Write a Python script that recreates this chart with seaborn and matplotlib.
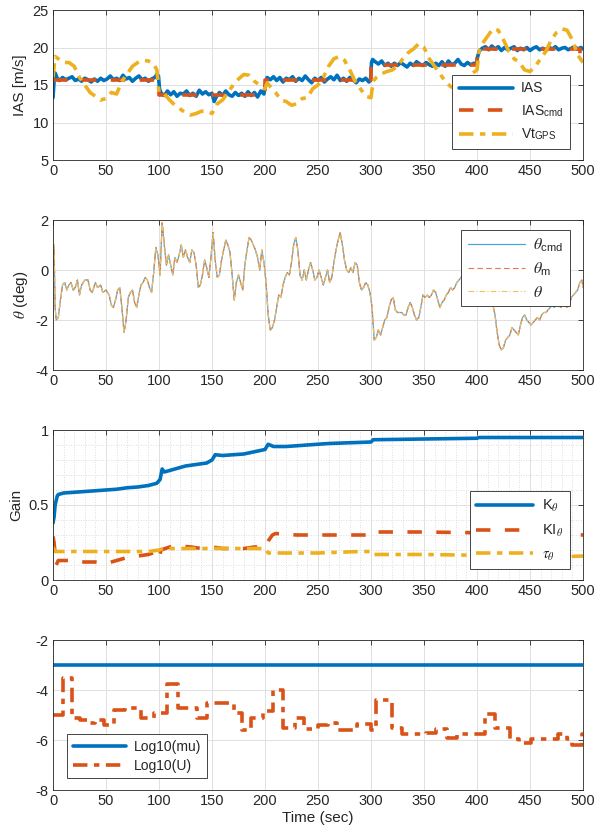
import numpy as np
import pandas as pd
import matplotlib
matplotlib.use("Agg")
import matplotlib.pyplot as plt
from matplotlib.ticker import MultipleLocator
import seaborn as sns

# ---------------- data ----------------
# Panel 1: airspeed
ias_t = [0, 1, 2, 4, 6, 9, 12, 15, 18, 21, 24, 27, 30, 33, 36, 39, 42, 45, 48, 51, 54, 57, 60, 63, 66, 69,
         72, 75, 78, 81, 84, 87, 90, 93, 96, 98, 99.5,
         100.5, 102, 105, 108, 111, 114, 117, 120, 123, 126, 129, 132, 135, 138, 141, 144, 147, 150, 152,
         154, 157, 160, 163, 166, 169, 172, 175, 178, 181, 184, 187, 190, 193, 196, 199,
         200.5, 202, 205, 208, 211, 214, 217, 220, 223, 226, 229, 232, 235, 238, 241, 244, 247, 250, 253,
         256, 259, 262, 265, 268, 271, 274, 277, 280, 283, 286, 289, 292, 295, 298, 299.5,
         300.5, 301.5, 304, 307, 310, 313, 316, 319, 322, 325, 328, 331, 334, 337, 340, 343, 346, 349, 352,
         355, 358, 361, 364, 367, 370, 373, 376, 379, 382, 385, 388, 391, 394, 397, 399.5,
         400.5, 402, 405, 408, 411, 414, 417, 420, 423, 426, 429, 432, 435, 438, 441, 444, 447, 450, 453,
         456, 459, 462, 465, 468, 471, 474, 477, 480, 483, 486, 489, 492, 495, 498, 500]
ias_v = [13.3, 15.5, 16.6, 15.9, 15.6, 16.0, 15.7, 15.9, 16.1, 15.6, 15.8, 15.5, 15.9, 15.7, 15.4, 15.8,
         15.5, 15.9, 15.6, 15.8, 16.2, 15.7, 15.9, 15.6, 16.3, 15.8, 16.0, 15.5, 15.9, 16.2, 15.7, 15.9,
         15.5, 15.8, 16.0, 16.4, 16.2,
         14.5, 13.9, 13.6, 14.2, 13.7, 14.1, 13.5, 13.9, 13.8, 14.2, 13.6, 13.9, 13.5, 14.3, 13.8, 14.1,
         13.7, 13.9, 12.8, 13.4, 14.0, 13.6, 14.2, 13.7, 13.5, 14.0, 13.6, 13.9, 13.5, 14.1, 13.6, 14.0,
         13.4, 14.2, 13.8,
         15.2, 16.0, 15.7, 16.1, 15.6, 16.0, 15.4, 15.9, 15.7, 16.1, 15.5, 15.9, 15.6, 16.2, 15.7, 15.3,
         15.9, 15.6, 16.0, 15.4, 15.8, 16.1, 15.7, 16.3, 15.6, 15.9, 15.5, 16.0, 15.7, 15.3, 15.8, 15.6,
         15.9, 15.4, 15.6,
         18.0, 18.4, 18.1, 17.8, 18.2, 17.6, 17.9, 17.5, 17.9, 17.6, 18.0, 17.7, 17.4, 17.9, 17.6, 18.1,
         17.8, 17.6, 18.0, 17.7, 17.5, 17.9, 17.6, 18.1, 17.5, 18.2, 17.7, 17.9, 18.4, 17.8, 17.6, 18.0,
         17.7, 17.9, 17.8,
         18.7, 19.5, 19.9, 20.1, 19.7, 20.2, 19.8, 20.1, 19.6, 20.0, 19.7, 19.9, 20.1, 19.6, 19.9, 19.7,
         20.0, 19.6, 19.9, 20.1, 19.7, 19.9, 19.6, 20.0, 19.8, 20.1, 19.7, 19.9, 20.0, 19.7, 19.9, 20.1,
         19.8, 20.0, 19.8]

cmd_t = [0, 100, 200, 300, 400, 497, 500]
cmd_v = [15.7, 13.7, 15.7, 17.7, 19.8, 18.2, 18.2]

gps_t = [0, 2, 5, 10, 15, 20, 25, 30, 35, 40, 45, 50, 55, 60, 65, 70, 75, 80, 85, 90, 95, 98,
         100, 105, 110, 115, 120, 125, 130, 135, 140, 145, 150, 155, 160, 165, 170, 175, 180, 185,
         190, 195, 200, 202, 205, 210, 215, 220, 225, 230, 235, 240, 245, 250, 255, 260, 265, 270,
         275, 280, 285, 290, 295, 300, 302, 305, 310, 315, 320, 325, 330, 335, 340, 345, 350, 355,
         360, 365, 370, 375, 380, 385, 390, 395, 400, 402, 405, 410, 415, 420, 425, 430, 435, 440,
         445, 450, 455, 460, 465, 470, 475, 480, 485, 490, 495, 500]
gps_v = [16.0, 18.8, 18.5, 18.0, 18.0, 17.5, 16.0, 15.0, 14.0, 13.5, 13.0, 13.2, 14.0, 13.8, 15.5,
         16.5, 17.5, 18.0, 18.3, 18.2, 17.8, 17.0,
         14.0, 13.8, 13.0, 12.3, 11.8, 11.3, 11.0, 11.2, 11.5, 11.5, 11.2, 12.5, 13.0, 14.0, 15.0,
         15.8, 16.4, 16.3, 15.5, 15.0, 14.5, 15.3, 14.8, 14.0, 13.0, 12.8, 12.3, 12.5, 13.2, 13.3,
         14.5, 15.0, 16.0, 17.5, 18.5, 18.8, 18.3, 17.0, 15.5, 14.5, 13.5, 13.3, 15.5, 16.0, 16.5,
         16.8, 17.0, 17.5, 18.5, 19.3, 19.8, 20.5, 20.0, 18.5, 17.5, 16.5, 15.5, 14.8, 14.5, 15.0,
         15.5, 16.5, 17.0, 19.5, 20.5, 21.5, 22.5, 22.3, 21.0, 19.5, 18.5, 18.0, 17.0, 16.8, 17.5,
         18.5, 19.5, 21.0, 22.0, 22.5, 22.3, 21.0, 19.0, 18.0]

# Panel 2: pitch attitude (command, model and measured overlap)
theta_t = [0, 1, 2, 3, 5, 7, 9, 11, 13, 15, 17, 19, 21, 23, 25, 27, 30, 33, 35, 37, 40, 42, 45, 47,
           50, 53, 55, 57, 59, 61, 63, 65, 67, 69, 71, 73, 75, 77, 79, 81, 83, 85, 87, 89, 91, 93, 95,
           97, 99, 101, 103, 105, 107, 109, 111, 113, 115, 117, 119, 121, 123, 125, 127, 129, 131,
           133, 135, 137, 139, 141, 143, 145, 147, 149, 151, 153, 155, 157, 159, 161, 163, 165, 167,
           169, 171, 173, 175, 177, 179, 181, 183, 185, 187, 189, 191, 193, 195, 197, 199, 201, 203,
           205, 207, 209, 211, 213, 215, 217, 219, 221, 223, 225, 227, 229, 231, 233, 235, 237, 239,
           241, 243, 245, 247, 249, 251, 253, 255, 257, 259, 261, 263, 265, 267, 269, 271, 273, 275,
           277, 279, 281, 283, 285, 287, 289, 291, 293, 295, 297, 299, 301, 303, 305, 307, 309, 311,
           313, 315, 317, 319, 321, 323, 325, 327, 329, 331, 333, 335, 337, 339, 341, 343, 345, 347,
           349, 351, 353, 355, 357, 359, 361, 363, 365, 367, 369, 371, 373, 375, 377, 379, 381, 383,
           385, 387, 389, 391, 393, 395, 400, 405, 410, 414, 417, 419, 421, 423, 425, 427, 429, 431,
           433, 435, 437, 439, 441, 443, 445, 447, 449, 451, 453, 455, 457, 459, 461, 463, 465, 467,
           469, 471, 473, 475, 477, 479, 481, 483, 485, 487, 489, 491, 493, 495, 497, 499, 500]
theta_v = [0.5, 1.0, -1.5, -2.0, -1.9, -1.2, -0.6, -0.5, -0.8, -0.6, -0.5, -0.8, -0.7, -0.4, -1.0,
           -0.6, -0.4, -0.4, -0.8, -0.9, -0.5, -0.7, -0.6, -0.9, -0.8, -1.0, -1.4, -1.5, -1.2, -0.8,
           -0.7, -1.5, -2.5, -2.0, -1.1, -0.9, -0.8, -1.3, -1.5, -1.0, -0.6, -0.5, -0.3, -0.4, -0.7,
           -0.9, -0.1, 0.9, 0.6, -0.2, 1.9, 1.0, 0.2, 0.6, 0.2, -0.2, 0.5, 0.3, 0.6, 1.0, 0.5, 0.8,
           0.5, 0.3, 0.8, 0.7, 0.2, -0.7, -0.6, -0.2, 0.4, 0.1, -0.3, 0.5, 1.5, 0.4, -0.3, -0.2, 0.4,
           0.8, 1.2, 1.0, 0.7, -0.2, -1.2, -0.5, -0.2, -0.5, -0.8, 0.2, 0.8, 1.3, 1.2, 1.0, 0.8, 0.5,
           0.0, 0.8, 0.3, -0.5, -1.8, -2.4, -2.3, -2.0, -1.5, -1.0, -1.1, -0.6, -0.3, -0.1, -0.2, 0.3,
           1.0, 1.3, 0.8, -0.2, -0.4, 0.0, -0.4, 0.0, 0.3, 0.0, -0.4, -0.3, 0.0, -0.3, -0.6, -0.3,
           0.0, -0.5, -0.3, 0.3, 0.8, 1.2, 1.5, 1.0, 0.4, 0.0, -0.1, 0.1, -0.1, 0.3, 0.2, -0.5, -0.8,
           -0.7, -0.5, -0.6, -0.9, -1.5, -2.8, -2.7, -2.4, -2.6, -2.3, -2.0, -1.9, -1.5, -1.2, -1.1,
           -1.6, -1.7, -1.7, -1.7, -1.8, -1.8, -1.5, -1.3, -1.5, -1.8, -2.0, -1.9, -1.5, -1.0, -1.1,
           -1.0, -1.1, -1.0, -0.8, -0.9, -1.2, -1.5, -1.3, -1.2, -1.0, -0.9, -0.7, -0.8, -0.7, -0.5,
           -0.4, -0.3, -0.1, 0.2, 0.1, 0.2, 0.0, -0.3, -0.4, -0.6, -1.2, -1.8, -2.5, -3.0, -3.2, -3.1,
           -2.8, -2.7, -2.6, -2.3, -2.4, -2.5, -2.6, -2.2, -1.9, -1.8, -2.0, -2.1, -2.2, -2.1, -2.0,
           -1.9, -2.0, -1.8, -1.7, -1.7, -1.6, -1.5, -1.4, -1.5, -1.3, -1.4, -1.5, -1.3, -1.4, -1.5,
           -1.4, -1.1, -1.0, -0.9, -0.8, -0.5, -0.4, -0.7]

# Panel 3: adaptive gains
k_t = [0, 1, 2, 4, 5, 10, 20, 30, 40, 50, 60, 70, 80, 90, 98, 101, 103, 105, 110, 120, 125, 135, 145,
       150, 153, 160, 170, 180, 190, 200, 203, 208, 220, 240, 260, 280, 300, 302, 350, 400, 402, 500]
k_v = [0.38, 0.42, 0.50, 0.56, 0.57, 0.58, 0.585, 0.59, 0.595, 0.60, 0.605, 0.615, 0.62, 0.63,
       0.645, 0.67, 0.74, 0.72, 0.73, 0.75, 0.76, 0.77, 0.78, 0.80, 0.835, 0.83, 0.835, 0.84, 0.855,
       0.87, 0.905, 0.89, 0.89, 0.90, 0.91, 0.915, 0.92, 0.935, 0.94, 0.945, 0.95, 0.95]
ki_t = [0, 1, 3, 5, 20, 25, 40, 50, 60, 70, 80, 90, 98, 100, 102, 110, 115, 130, 140, 150, 160, 170,
        180, 190, 200, 203, 207, 210, 230, 260, 280, 300, 302, 350, 400, 450, 500]
ki_v = [0.29, 0.25, 0.10, 0.13, 0.13, 0.12, 0.12, 0.11, 0.13, 0.15, 0.16, 0.17, 0.19, 0.15, 0.20,
        0.22, 0.23, 0.22, 0.21, 0.22, 0.21, 0.21, 0.21, 0.22, 0.22, 0.26, 0.30, 0.31, 0.30, 0.30,
        0.30, 0.30, 0.32, 0.32, 0.315, 0.31, 0.30]
tau_t = [0, 2, 10, 50, 90, 100, 105, 150, 200, 203, 250, 290, 300, 302, 350, 400, 450, 480, 500]
tau_v = [0.22, 0.19, 0.19, 0.19, 0.19, 0.20, 0.21, 0.21, 0.21, 0.18, 0.18, 0.19, 0.19, 0.17, 0.17,
         0.165, 0.165, 0.155, 0.16]

# Panel 4: log-scaled adaptation parameters
mu_t = [0, 500]
mu_v = [-3, -3]
u_t = [0, 9, 18, 25, 33, 40, 48, 58, 68, 83, 95, 108, 118, 129, 136, 145, 165, 171, 178, 187, 198,
       208, 217, 228, 237, 250, 259, 268, 287, 300, 305, 320, 329, 352, 361, 372, 381, 408, 417,
       431, 440, 451, 476, 485, 490, 499, 500]
u_v = [-5.0, -3.5, -5.1, -5.2, -5.3, -5.2, -5.4, -4.8, -4.7, -5.1, -4.9, -3.75, -4.7, -4.7, -5.1,
       -4.5, -4.5, -4.9, -5.6, -5.1, -4.85, -4.0, -5.5, -5.1, -5.55, -5.4, -5.3, -5.6, -5.35, -5.6,
       -4.4, -5.5, -5.75, -5.7, -5.55, -5.9, -5.75, -4.95, -5.5, -5.95, -6.1, -5.95, -5.75, -5.95,
       -6.2, -5.75, -5.75]

x_ticks = list(range(0, 501, 50))

# ---------------- style ----------------
sns.set_theme(style="white")
plt.rcParams["font.family"] = ["Liberation Sans", "DejaVu Sans"]
plt.rcParams["mathtext.fontset"] = "stix"
plt.rcParams["font.size"] = 10
plt.rcParams["axes.unicode_minus"] = False

BLUE = "#0072BD"
ORANGE = "#D95319"
YELLOW = "#EDB120"
TXT = "#262626"
DASH = (4, 4)
DASHDOT = (4, 1.8, 1.5, 1.8)

W, H = 597, 839
fig = plt.figure(figsize=(W / 100, H / 100), dpi=100)


def make_axes(top_px, bottom_px):
    left, right = 53, 583
    return fig.add_axes([left / W, 1 - bottom_px / H, (right - left) / W, (bottom_px - top_px) / H])


def style_axes(ax, ylim, yticks, minor=False):
    ax.set_xlim(0, 500)
    ax.set_ylim(*ylim)
    ax.set_xticks(x_ticks)
    ax.set_yticks(yticks)
    ax.grid(True, color="#e0e0e0", lw=0.7)
    if minor:
        ax.xaxis.set_minor_locator(MultipleLocator(10))
        ax.yaxis.set_minor_locator(MultipleLocator(0.1))
        ax.grid(True, which="minor", color="#d4d4d4", lw=0.6, ls=(0, (1, 2)))
    for s in ax.spines.values():
        s.set_color(TXT)
        s.set_linewidth(0.6)
        s.set_visible(True)
    ax.tick_params(direction="in", length=3.5, width=0.6, colors=TXT, labelsize=10.5,
                   top=True, right=True, pad=3)
    ax.tick_params(which="minor", length=0)
    ax.set_xlabel("")
    ax.set_ylabel("")


def legend(ax, loc, anchor, fs=10, **kw):
    lg = ax.legend(loc=loc, bbox_to_anchor=anchor, fontsize=fs, frameon=True, fancybox=False,
                   framealpha=1, edgecolor=TXT, borderaxespad=0, **kw)
    lg.get_frame().set_linewidth(0.6)
    for t in lg.get_texts():
        t.set_color(TXT)
    return lg


# Panel 1
ax1 = make_axes(10, 160)
sns.lineplot(x=ias_t, y=ias_v, ax=ax1, color=BLUE, lw=2.6, label="IAS", estimator=None)
sns.lineplot(x=cmd_t, y=cmd_v, ax=ax1, color=ORANGE, lw=2.6, label=r"IAS$_{\mathregular{cmd}}$",
             drawstyle="steps-post", dashes=DASH, estimator=None)
sns.lineplot(x=gps_t, y=gps_v, ax=ax1, color=YELLOW, lw=2.6, label=r"Vt$_{\mathregular{GPS}}$",
             dashes=DASHDOT, estimator=None)
style_axes(ax1, (5, 25), [5, 10, 15, 20, 25])
ax1.set_ylabel("IAS [m/s]", color=TXT, fontsize=11, labelpad=4)
legend(ax1, "upper right", (0.975, 0.565), handlelength=3.9, labelspacing=0.55, borderpad=0.45,
       handletextpad=0.6)

# Panel 2
ax2 = make_axes(220, 370)
sns.lineplot(x=theta_t, y=theta_v, ax=ax2, color="#4DA3DD", lw=0.9,
             label=r"$\theta_{\mathregular{cmd}}$", estimator=None)
sns.lineplot(x=theta_t, y=theta_v, ax=ax2, color="#E8764A", lw=0.8,
             label=r"$\theta_{\mathregular{m}}$", dashes=(5, 3), estimator=None)
sns.lineplot(x=theta_t, y=theta_v, ax=ax2, color="#F2C25A", lw=0.8,
             label=r"$\theta$", dashes=(5, 2, 1, 2), estimator=None)
style_axes(ax2, (-4, 2), [-4, -2, 0, 2])
ax2.set_ylabel(r"$\theta$ (deg)", color=TXT, fontsize=11, labelpad=4)
legend(ax2, "upper right", (0.975, 0.933), fs=11.5, handlelength=3.6, labelspacing=0.45,
       borderpad=0.4, handletextpad=0.5)

# Panel 3
ax3 = make_axes(430, 580)
sns.lineplot(x=k_t, y=k_v, ax=ax3, color=BLUE, lw=2.6, label=r"K$_\theta$", estimator=None)
sns.lineplot(x=ki_t, y=ki_v, ax=ax3, color=ORANGE, lw=2.6, label=r"KI$_\theta$",
             dashes=DASH, estimator=None)
sns.lineplot(x=tau_t, y=tau_v, ax=ax3, color=YELLOW, lw=2.6, label=r"$\tau_\theta$",
             dashes=DASHDOT, estimator=None)
style_axes(ax3, (0, 1), [0, 0.5, 1], minor=True)
ax3.set_yticklabels(["0", "0.5", "1"])
ax3.set_ylabel("Gain", color=TXT, fontsize=11, labelpad=4)
legend(ax3, "upper right", (0.975, 0.592), fs=10.5, handlelength=3.9, labelspacing=0.6,
       borderpad=0.45, handletextpad=0.6)

# Panel 4
ax4 = make_axes(640, 790)
sns.lineplot(x=mu_t, y=mu_v, ax=ax4, color=BLUE, lw=2.6, label="Log10(mu)", estimator=None)
sns.lineplot(x=u_t, y=u_v, ax=ax4, color=ORANGE, lw=2.6, label="Log10(U)",
             drawstyle="steps-post", dashes=DASHDOT, estimator=None)
style_axes(ax4, (-8, -2), [-8, -6, -4, -2])
ax4.set_xlabel("Time (sec)", color=TXT, fontsize=11, labelpad=2)
legend(ax4, "lower left", (0.027, 0.078), handlelength=3.8, labelspacing=0.35, borderpad=0.4,
       handletextpad=0.6)

fig.savefig("out.png", dpi=100)
